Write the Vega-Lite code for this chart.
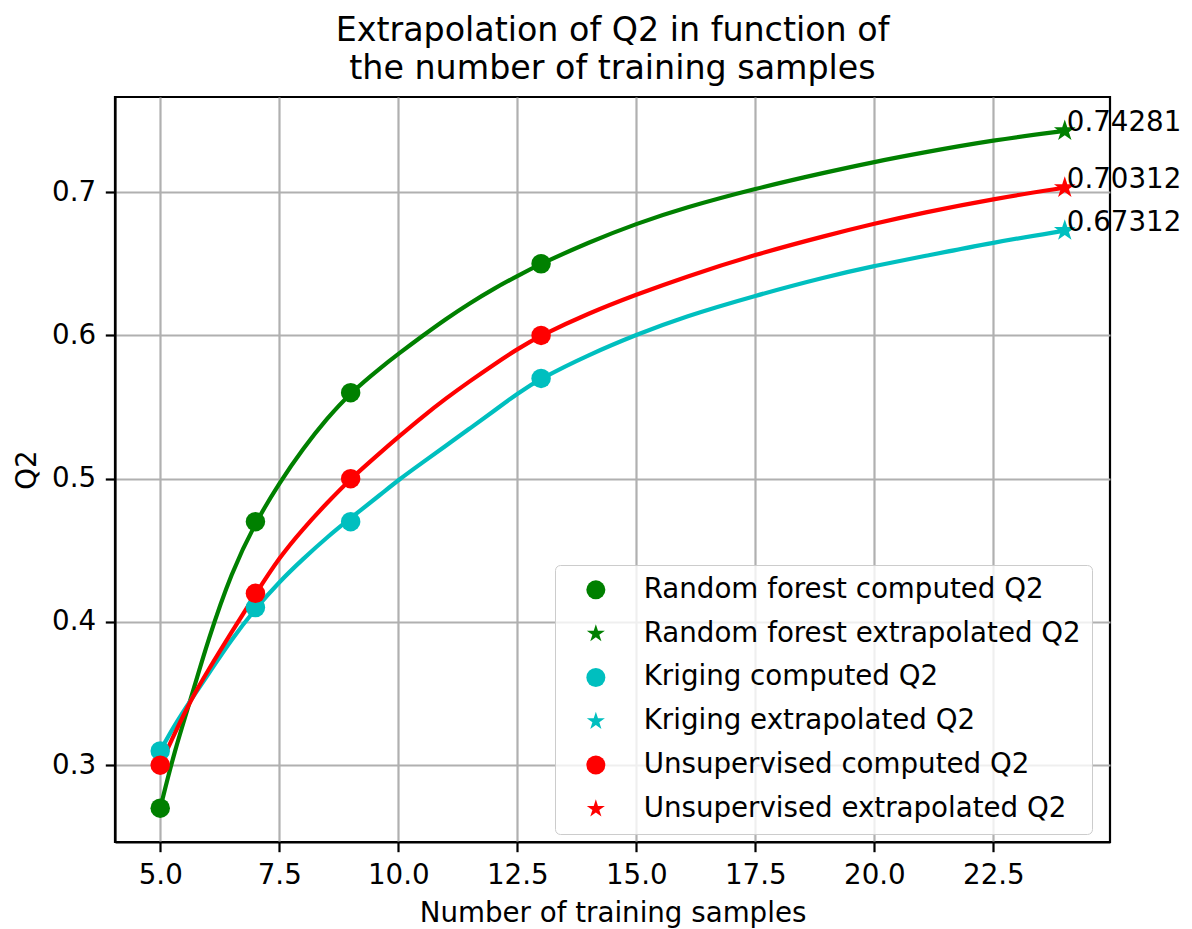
{
  "$schema": "https://vega.github.io/schema/vega-lite/v6.json",
  "width": 995,
  "height": 745,
  "autosize": {"type": "none"},
  "padding": {"left": 115, "top": 97, "right": 82, "bottom": 87},
  "title": {
    "text": ["Extrapolation of Q2 in function of", "\u00a0the number of training samples"],
    "font": "DejaVu Sans",
    "fontSize": 33.3,
    "fontWeight": "normal",
    "color": "black",
    "anchor": "middle",
    "lineHeight": 38,
    "offset": 11
  },
  "layer": [
    {
      "data": {"values": [
        {"method": "Random forest", "x": 5, "y": 0.27},
        {"method": "Random forest", "x": 5.3, "y": 0.31},
        {"method": "Random forest", "x": 5.65, "y": 0.347},
        {"method": "Random forest", "x": 6, "y": 0.387},
        {"method": "Random forest", "x": 6.5, "y": 0.435},
        {"method": "Random forest", "x": 7, "y": 0.4694},
        {"method": "Random forest", "x": 7.5, "y": 0.497},
        {"method": "Random forest", "x": 8, "y": 0.521},
        {"method": "Random forest", "x": 8.5, "y": 0.542},
        {"method": "Random forest", "x": 9, "y": 0.56},
        {"method": "Random forest", "x": 9.65, "y": 0.578},
        {"method": "Random forest", "x": 10, "y": 0.587},
        {"method": "Random forest", "x": 10.5, "y": 0.5995},
        {"method": "Random forest", "x": 11, "y": 0.6115},
        {"method": "Random forest", "x": 11.5, "y": 0.6225},
        {"method": "Random forest", "x": 12, "y": 0.6325},
        {"method": "Random forest", "x": 12.5, "y": 0.6415},
        {"method": "Random forest", "x": 13, "y": 0.65},
        {"method": "Random forest", "x": 14, "y": 0.665},
        {"method": "Random forest", "x": 15, "y": 0.678},
        {"method": "Random forest", "x": 16, "y": 0.689},
        {"method": "Random forest", "x": 17.5, "y": 0.7025},
        {"method": "Random forest", "x": 19, "y": 0.714},
        {"method": "Random forest", "x": 20, "y": 0.7211},
        {"method": "Random forest", "x": 21, "y": 0.7275},
        {"method": "Random forest", "x": 22.5, "y": 0.7363},
        {"method": "Random forest", "x": 24, "y": 0.74281},
        {"method": "Kriging", "x": 5, "y": 0.31},
        {"method": "Kriging", "x": 5.3, "y": 0.328},
        {"method": "Kriging", "x": 5.65, "y": 0.346},
        {"method": "Kriging", "x": 6, "y": 0.363},
        {"method": "Kriging", "x": 6.5, "y": 0.388},
        {"method": "Kriging", "x": 7, "y": 0.4093},
        {"method": "Kriging", "x": 7.5, "y": 0.428},
        {"method": "Kriging", "x": 8, "y": 0.444},
        {"method": "Kriging", "x": 8.5, "y": 0.459},
        {"method": "Kriging", "x": 9, "y": 0.4725},
        {"method": "Kriging", "x": 9.65, "y": 0.4895},
        {"method": "Kriging", "x": 10, "y": 0.499},
        {"method": "Kriging", "x": 10.5, "y": 0.511},
        {"method": "Kriging", "x": 11, "y": 0.523},
        {"method": "Kriging", "x": 11.5, "y": 0.535},
        {"method": "Kriging", "x": 12, "y": 0.547},
        {"method": "Kriging", "x": 12.5, "y": 0.5595},
        {"method": "Kriging", "x": 13, "y": 0.57},
        {"method": "Kriging", "x": 14, "y": 0.5865},
        {"method": "Kriging", "x": 15, "y": 0.6005},
        {"method": "Kriging", "x": 16, "y": 0.613},
        {"method": "Kriging", "x": 17.5, "y": 0.6278},
        {"method": "Kriging", "x": 19, "y": 0.641},
        {"method": "Kriging", "x": 20, "y": 0.6485},
        {"method": "Kriging", "x": 21, "y": 0.655},
        {"method": "Kriging", "x": 22.5, "y": 0.6649},
        {"method": "Kriging", "x": 24, "y": 0.67312},
        {"method": "Unsupervised", "x": 5, "y": 0.3},
        {"method": "Unsupervised", "x": 5.3, "y": 0.322},
        {"method": "Unsupervised", "x": 5.65, "y": 0.346},
        {"method": "Unsupervised", "x": 6, "y": 0.366},
        {"method": "Unsupervised", "x": 6.5, "y": 0.393},
        {"method": "Unsupervised", "x": 7, "y": 0.4194},
        {"method": "Unsupervised", "x": 7.5, "y": 0.445},
        {"method": "Unsupervised", "x": 8, "y": 0.465},
        {"method": "Unsupervised", "x": 8.5, "y": 0.483},
        {"method": "Unsupervised", "x": 9, "y": 0.5},
        {"method": "Unsupervised", "x": 9.65, "y": 0.519},
        {"method": "Unsupervised", "x": 10, "y": 0.529},
        {"method": "Unsupervised", "x": 10.5, "y": 0.543},
        {"method": "Unsupervised", "x": 11, "y": 0.556},
        {"method": "Unsupervised", "x": 11.5, "y": 0.568},
        {"method": "Unsupervised", "x": 12, "y": 0.5795},
        {"method": "Unsupervised", "x": 12.5, "y": 0.5905},
        {"method": "Unsupervised", "x": 13, "y": 0.6},
        {"method": "Unsupervised", "x": 14, "y": 0.6155},
        {"method": "Unsupervised", "x": 15, "y": 0.6285},
        {"method": "Unsupervised", "x": 16, "y": 0.6405},
        {"method": "Unsupervised", "x": 17.5, "y": 0.6565},
        {"method": "Unsupervised", "x": 19, "y": 0.6698},
        {"method": "Unsupervised", "x": 20, "y": 0.678},
        {"method": "Unsupervised", "x": 21, "y": 0.6855},
        {"method": "Unsupervised", "x": 22.5, "y": 0.6953},
        {"method": "Unsupervised", "x": 24, "y": 0.70312}
      ]},
      "mark": {"type": "line", "strokeWidth": 4.2, "interpolate": "basis"},
      "encoding": {
        "x": {
          "field": "x",
          "type": "quantitative",
          "scale": {"domain": [4.05, 24.95], "nice": false, "zero": false},
          "axis": {
            "values": [5, 7.5, 10, 12.5, 15, 17.5, 20, 22.5],
            "format": ".1f",
            "title": "Number of training samples",
            "titlePadding": 10
          }
        },
        "y": {
          "field": "y",
          "type": "quantitative",
          "scale": {"domain": [0.2464, 0.7664], "nice": false, "zero": false},
          "axis": {
            "values": [0.3, 0.4, 0.5, 0.6, 0.7],
            "format": ".1f",
            "title": "Q2",
            "titlePadding": 10
          }
        },
        "stroke": {
          "field": "method",
          "type": "nominal",
          "scale": {"domain": ["Random forest", "Kriging", "Unsupervised"], "range": ["#008000", "#00bfbf", "#ff0000"]},
          "legend": null
        }
      }
    },
    {
      "data": {"values": [
        {"series": "Random forest computed Q2", "x": 5, "y": 0.27},
        {"series": "Random forest computed Q2", "x": 7, "y": 0.47},
        {"series": "Random forest computed Q2", "x": 9, "y": 0.56},
        {"series": "Random forest computed Q2", "x": 13, "y": 0.65},
        {"series": "Kriging computed Q2", "x": 5, "y": 0.31},
        {"series": "Kriging computed Q2", "x": 7, "y": 0.41},
        {"series": "Kriging computed Q2", "x": 9, "y": 0.47},
        {"series": "Kriging computed Q2", "x": 13, "y": 0.57},
        {"series": "Unsupervised computed Q2", "x": 5, "y": 0.3},
        {"series": "Unsupervised computed Q2", "x": 7, "y": 0.42},
        {"series": "Unsupervised computed Q2", "x": 9, "y": 0.5},
        {"series": "Unsupervised computed Q2", "x": 13, "y": 0.6}
      ]},
      "mark": {"type": "point", "filled": true, "size": 380, "opacity": 1},
      "encoding": {
        "x": {"field": "x", "type": "quantitative"},
        "y": {"field": "y", "type": "quantitative"},
        "color": {
          "field": "series",
          "type": "nominal",
          "scale": {
            "domain": ["Random forest computed Q2", "Random forest extrapolated Q2", "Kriging computed Q2", "Kriging extrapolated Q2", "Unsupervised computed Q2", "Unsupervised extrapolated Q2"],
            "range": ["#008000", "#008000", "#00bfbf", "#00bfbf", "#ff0000", "#ff0000"]
          },
          "legend": {"orient": "none", "legendX": 440, "legendY": 468, "title": null}
        },
        "shape": {
          "field": "series",
          "type": "nominal",
          "scale": {
            "domain": ["Random forest computed Q2", "Random forest extrapolated Q2", "Kriging computed Q2", "Kriging extrapolated Q2", "Unsupervised computed Q2", "Unsupervised extrapolated Q2"],
            "range": ["circle", "M0,-1L0.2245,-0.309L0.951,-0.309L0.3633,0.118L0.588,0.809L0,0.382L-0.588,0.809L-0.3633,0.118L-0.951,-0.309L-0.2245,-0.309Z", "circle", "M0,-1L0.2245,-0.309L0.951,-0.309L0.3633,0.118L0.588,0.809L0,0.382L-0.588,0.809L-0.3633,0.118L-0.951,-0.309L-0.2245,-0.309Z", "circle", "M0,-1L0.2245,-0.309L0.951,-0.309L0.3633,0.118L0.588,0.809L0,0.382L-0.588,0.809L-0.3633,0.118L-0.951,-0.309L-0.2245,-0.309Z"]
          },
          "legend": {"orient": "none", "legendX": 440, "legendY": 468, "title": null}
        }
      }
    },
    {
      "data": {"values": [
        {"series": "Random forest extrapolated Q2", "x": 24, "y": 0.74281},
        {"series": "Kriging extrapolated Q2", "x": 24, "y": 0.67312},
        {"series": "Unsupervised extrapolated Q2", "x": 24, "y": 0.70312}
      ]},
      "mark": {"type": "point", "filled": true, "size": 520, "opacity": 1},
      "encoding": {
        "x": {"field": "x", "type": "quantitative"},
        "y": {"field": "y", "type": "quantitative"},
        "color": {"field": "series", "type": "nominal"},
        "shape": {"field": "series", "type": "nominal"}
      }
    },
    {
      "data": {"values": [
        {"x": 24, "y": 0.74281, "label": "0.74281"},
        {"x": 24, "y": 0.67312, "label": "0.67312"},
        {"x": 24, "y": 0.70312, "label": "0.70312"}
      ]},
      "mark": {"type": "text", "align": "left", "baseline": "alphabetic", "dx": 2, "font": "DejaVu Sans", "fontSize": 27.7, "color": "black"},
      "encoding": {
        "x": {"field": "x", "type": "quantitative"},
        "y": {"field": "y", "type": "quantitative"},
        "text": {"field": "label", "type": "nominal"}
      }
    }
  ],
  "config": {
    "view": {"stroke": "black", "strokeWidth": 2.2},
    "axis": {
      "grid": true,
      "gridColor": "#b0b0b0",
      "gridWidth": 2.2,
      "gridOpacity": 1,
      "domainColor": "black",
      "domainWidth": 2.2,
      "tickColor": "black",
      "tickWidth": 2.2,
      "tickSize": 9.7,
      "labelPadding": 9.7,
      "labelFont": "DejaVu Sans",
      "labelFontSize": 27.7,
      "labelColor": "black",
      "titleFont": "DejaVu Sans",
      "titleFontSize": 27.7,
      "titleFontWeight": "normal",
      "titleColor": "black"
    },
    "legend": {
      "labelFont": "DejaVu Sans",
      "labelFontSize": 27.7,
      "labelColor": "black",
      "labelLimit": 0,
      "padding": 11,
      "fillColor": "rgba(255,255,255,0.8)",
      "strokeColor": "#cccccc",
      "cornerRadius": 5,
      "rowPadding": 14.8,
      "symbolSize": 361,
      "symbolOffset": 16,
      "labelOffset": 34,
      "symbolStrokeWidth": 0
    }
  }
}
